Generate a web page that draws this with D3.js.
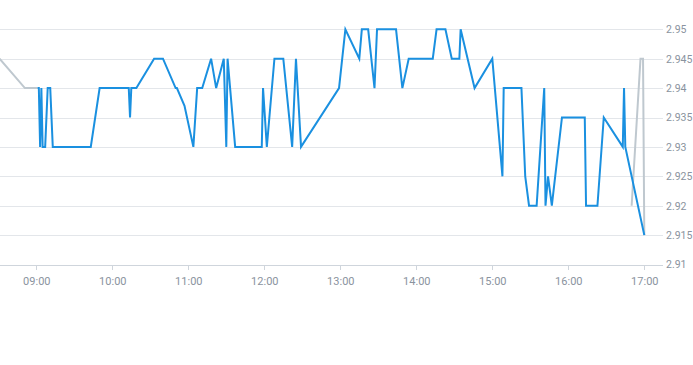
<!DOCTYPE html>
<meta charset="utf-8">
<title>intraday</title>
<head>
<style>
body { margin: 0; background: #fff; }
#chart { width: 693px; height: 365px; }
.grid line { stroke: #e3e6ea; stroke-width: 1; shape-rendering: crispEdges; }
.axis text { font-family: Roboto, "Liberation Sans", sans-serif; font-size: 11px; fill: #8a939e; }
.axis.y text { font-size: 10.5px; }
.axis .domain { stroke: #cfd5dc; shape-rendering: crispEdges; }
.axis .tick line { stroke: #cfd5dc; shape-rendering: crispEdges; }
.line { fill: none; stroke-width: 2; stroke-linejoin: miter; }
.line.main { stroke: #1a90e0; }
.line.ext { stroke: #bfc8cf; }
</style>
</head>
<body>
<div id="chart"></div>
<script src="https://cdn.jsdelivr.net/npm/d3@7"></script>
<script>
// regular session
var times = ["09:01","09:02","09:03","09:04","09:05","09:07","09:09","09:11","09:13","09:43",
  "09:50","10:13","10:14","10:15","10:19","10:33","10:40","10:50","10:51","10:57",
  "11:04","11:07","11:11","11:18","11:22","11:28","11:30","11:31","11:37","11:58",
  "11:59","12:02","12:08","12:15","12:22","12:25","12:29","12:59","13:04","13:15",
  "13:17","13:22","13:27","13:29","13:44","13:49","13:54","14:13","14:16","14:23",
  "14:28","14:34","14:35","14:46","15:00","15:08","15:09","15:23","15:26","15:29",
  "15:35","15:41","15:42","15:44","15:47","15:55","16:13","16:14","16:23","16:28",
  "16:43","16:44","16:45","17:00"];
var prices = [2.94,2.94,2.93,2.94,2.93,2.93,2.94,2.94,2.93,2.93,
  2.94,2.94,2.935,2.94,2.94,2.945,2.945,2.94,2.94,2.937,
  2.93,2.94,2.94,2.945,2.94,2.945,2.93,2.945,2.93,2.93,
  2.94,2.93,2.945,2.945,2.93,2.945,2.93,2.94,2.95,2.945,
  2.95,2.95,2.94,2.95,2.95,2.94,2.945,2.945,2.95,2.95,
  2.945,2.945,2.95,2.94,2.945,2.925,2.94,2.94,2.925,2.92,
  2.92,2.94,2.92,2.925,2.92,2.935,2.935,2.92,2.92,2.935,
  2.93,2.94,2.93,2.915];

// pre / post session (grey)
var preTimes = ["08:31","08:51","09:01"];
var prePrices = [2.945,2.94,2.94];
var postTimes = ["16:50","16:57","16:59","17:00"];
var postPrices = [2.92,2.945,2.945,2.915];

var yTicks = [2.91,2.915,2.92,2.925,2.93,2.935,2.94,2.945,2.95];
var xTicks = ["09:00","10:00","11:00","12:00","13:00","14:00","15:00","16:00","17:00"];

var width = 693, height = 365,
    plotRight = 663, plotBottom = 265;

var parse = d3.timeParse("%H:%M");
function pairs(ts, vs) { return ts.map(function(t, i) { return {t: parse(t), v: vs[i]}; }); }

var svg = d3.select("#chart").append("svg")
    .attr("width", width)
    .attr("height", height);

var x = d3.scaleTime()
    .domain([parse("08:30"), parse("17:15")])
    .range([-1.7, 663.3]);

var y = d3.scaleLinear()
    .domain([2.91, 2.95])
    .range([264.5, 29.3]);

// grid
svg.append("g").attr("class", "grid").selectAll("line")
    .data(yTicks.slice(1))
  .enter().append("line")
    .attr("x1", 0).attr("x2", plotRight)
    .attr("y1", function(d) { return Math.round(y(d)) + 0.5; })
    .attr("y2", function(d) { return Math.round(y(d)) + 0.5; });

// y labels on the right
svg.append("g").attr("class", "axis y")
    .attr("transform", "translate(" + plotRight + ",0)")
    .call(d3.axisRight(y).tickValues(yTicks).tickSize(0).tickPadding(3)
      .tickFormat(function(d) { return String(+d.toFixed(3)); }))
  .select(".domain").remove();

// x axis
svg.append("g").attr("class", "axis x")
    .attr("transform", "translate(0," + plotBottom + ")")
    .call(d3.axisBottom(x).tickValues(xTicks.map(parse)).tickSize(5).tickSizeOuter(0).tickPadding(7)
      .tickFormat(d3.timeFormat("%H:%M")));
svg.select(".axis.x .domain").attr("d", "M0,0.5H" + plotRight);

svg.append("clipPath").attr("id", "clip")
  .append("rect").attr("x", 0).attr("y", 0).attr("width", plotRight).attr("height", plotBottom);

var line = d3.line()
    .x(function(d) { return x(d.t); })
    .y(function(d) { return y(d.v); });

var lines = svg.append("g").attr("clip-path", "url(#clip)");
lines.append("path").attr("class", "line ext").attr("d", line(pairs(preTimes, prePrices)));
lines.append("path").attr("class", "line ext").attr("d", line(pairs(postTimes, postPrices)));
lines.append("path").attr("class", "line main").attr("d", line(pairs(times, prices)));
</script>
</body>
</html>
